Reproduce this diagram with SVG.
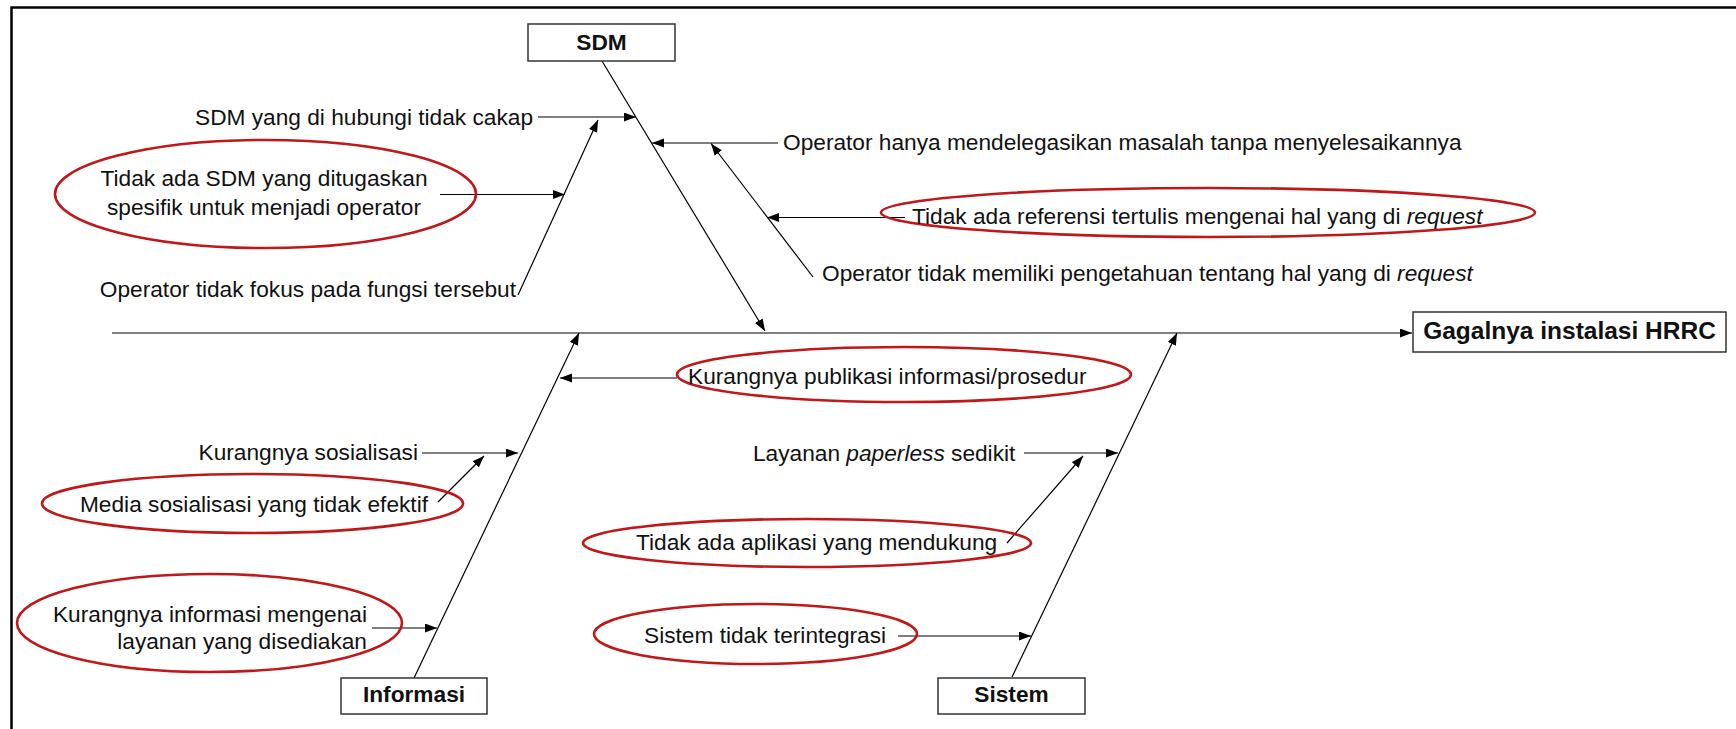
<svg xmlns="http://www.w3.org/2000/svg" width="1736" height="729" viewBox="0 0 1736 729">
  <defs>
    <marker id="arrow" markerUnits="userSpaceOnUse" markerWidth="13" markerHeight="10" refX="12" refY="4.5" orient="auto">
      <path d="M0,0 L12,4.5 L0,9 z" fill="#000"/>
    </marker>
    <style>
      text { font-family: "Liberation Sans", Arial, sans-serif; font-size: 22.7px; fill: #111; }
      .bold { font-weight: bold; }
      .box { fill: #fff; stroke: #333; stroke-width: 1.5; }
      .oval { fill: none; stroke: #c01818; stroke-width: 2.6; }
      .conn line { stroke: #000; stroke-width: 1.2; fill: none; }
      .arr { marker-end: url(#arrow); }
      .frame { stroke: #000; stroke-width: 2.5; fill: none; }
    </style>
  </defs>

  <rect width="1736" height="729" fill="#fff"/>

  <!-- page frame -->
  <path class="frame" d="M11.5,729 L11.5,7.5 L1736,7.5"/>

  <!-- connectors -->
  <g id="connectors" class="conn">
    <line class="arr" x1="112" y1="333" x2="1412" y2="333"/>
    <line class="arr" x1="602" y1="61" x2="765" y2="331"/>
    <line class="arr" x1="538" y1="117" x2="636" y2="117"/>
    <line class="arr" x1="518" y1="295" x2="598" y2="120"/>
    <line class="arr" x1="440" y1="194.5" x2="565" y2="194.5"/>
    <line class="arr" x1="778" y1="143" x2="652" y2="143"/>
    <line class="arr" x1="813" y1="277" x2="711" y2="143.5"/>
    <line class="arr" x1="905" y1="217.5" x2="767" y2="217.5"/>
    <line class="arr" x1="414" y1="678" x2="579" y2="333"/>
    <line class="arr" x1="422" y1="453" x2="518" y2="453"/>
    <line class="arr" x1="438" y1="502" x2="484" y2="456"/>
    <line class="arr" x1="372" y1="628" x2="437" y2="628"/>
    <line class="arr" x1="677" y1="378" x2="560" y2="378"/>
    <line class="arr" x1="1012" y1="677" x2="1177" y2="333"/>
    <line class="arr" x1="1024" y1="453" x2="1118" y2="453"/>
    <line class="arr" x1="1007" y1="543" x2="1083" y2="456"/>
    <line class="arr" x1="898" y1="636" x2="1031" y2="636"/>
  </g>

  <!-- category boxes -->
  <g id="sdm">
    <rect class="box" x="528" y="24" width="147" height="37"/>
    <text class="bold" x="601.5" y="50" text-anchor="middle">SDM</text>
  </g>
  <g id="informasi">
    <rect class="box" x="341" y="678" width="146" height="36"/>
    <text class="bold" x="414" y="702" text-anchor="middle">Informasi</text>
  </g>
  <g id="sistem">
    <rect class="box" x="938" y="678" width="147" height="36"/>
    <text class="bold" x="1011.5" y="702" text-anchor="middle">Sistem</text>
  </g>
  <g id="effect">
    <rect class="box" x="1413" y="312" width="313" height="40"/>
    <text class="bold" x="1569.5" y="338.5" text-anchor="middle" style="font-size:24.5px">Gagalnya instalasi HRRC</text>
  </g>

  <!-- causes: SDM -->
  <g id="c-sdm-cakap">
    <text x="533" y="124.5" text-anchor="end">SDM yang di hubungi tidak cakap</text>
  </g>
  <g id="c-sdm-tugas">
    <ellipse class="oval" cx="265.5" cy="194" rx="210.5" ry="54"/>
    <text x="264" y="186" text-anchor="middle">Tidak ada SDM yang ditugaskan</text>
    <text x="264" y="214.5" text-anchor="middle">spesifik untuk menjadi operator</text>
  </g>
  <g id="c-sdm-fokus">
    <text x="516" y="297" text-anchor="end">Operator tidak fokus pada fungsi tersebut</text>
  </g>
  <g id="c-sdm-delegasi">
    <text x="783" y="150">Operator hanya mendelegasikan masalah tanpa menyelesaikannya</text>
  </g>
  <g id="c-sdm-referensi">
    <ellipse class="oval" cx="1208" cy="212.5" rx="327" ry="24.5"/>
    <text x="912" y="224">Tidak ada referensi tertulis mengenai hal yang di <tspan font-style="italic">request</tspan></text>
  </g>
  <g id="c-sdm-pengetahuan">
    <text x="822" y="281">Operator tidak memiliki pengetahuan tentang hal yang di <tspan font-style="italic">request</tspan></text>
  </g>

  <!-- causes: Informasi -->
  <g id="c-info-publikasi">
    <ellipse class="oval" cx="904" cy="374.5" rx="227" ry="27.5"/>
    <text x="688" y="384">Kurangnya publikasi informasi/prosedur</text>
  </g>
  <g id="c-info-sosialisasi">
    <text x="418" y="460" text-anchor="end">Kurangnya sosialisasi</text>
  </g>
  <g id="c-info-media">
    <ellipse class="oval" cx="252.5" cy="503.5" rx="210.5" ry="29.5"/>
    <text x="428" y="512" text-anchor="end">Media sosialisasi yang tidak efektif</text>
  </g>
  <g id="c-info-layanan">
    <ellipse class="oval" cx="209.5" cy="623" rx="192.5" ry="49"/>
    <text x="367" y="622" text-anchor="end">Kurangnya informasi mengenai</text>
    <text x="367" y="648.5" text-anchor="end">layanan yang disediakan</text>
  </g>

  <!-- causes: Sistem -->
  <g id="c-sis-paperless">
    <text x="753" y="461">Layanan <tspan font-style="italic">paperless</tspan> sedikit</text>
  </g>
  <g id="c-sis-aplikasi">
    <ellipse class="oval" cx="807" cy="543" rx="224" ry="24"/>
    <text x="636" y="550">Tidak ada aplikasi yang mendukung</text>
  </g>
  <g id="c-sis-integrasi">
    <ellipse class="oval" cx="755.5" cy="634" rx="161.5" ry="30"/>
    <text x="644" y="643">Sistem tidak terintegrasi</text>
  </g>
</svg>
